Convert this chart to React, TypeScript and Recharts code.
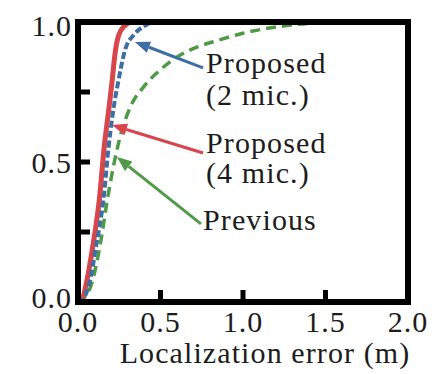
import React from 'react';
import {
  LineChart,
  Line,
  XAxis,
  YAxis,
  ReferenceLine,
  ReferenceDot,
} from 'recharts';

// CDF curves: x = localization error (m), y = cumulative ratio
const red4mic = [
  { x: 0, y: 0 }, { x: 0.025, y: 0.01 }, { x: 0.055, y: 0.08 }, { x: 0.09, y: 0.2 },
  { x: 0.13, y: 0.37 }, { x: 0.16, y: 0.56 }, { x: 0.185, y: 0.68 }, { x: 0.205, y: 0.78 },
  { x: 0.225, y: 0.89 }, { x: 0.245, y: 0.95 }, { x: 0.28, y: 0.985 }, { x: 0.33, y: 1.0 },
  { x: 2.0, y: 1.0 },
];
const blue2mic = [
  { x: 0, y: 0 }, { x: 0.03, y: 0.01 }, { x: 0.07, y: 0.07 }, { x: 0.11, y: 0.2 },
  { x: 0.155, y: 0.37 }, { x: 0.185, y: 0.55 }, { x: 0.21, y: 0.67 }, { x: 0.245, y: 0.79 },
  { x: 0.285, y: 0.9 }, { x: 0.34, y: 0.955 }, { x: 0.4, y: 0.985 }, { x: 0.46, y: 1.0 },
  { x: 2.0, y: 1.0 },
];
const greenPrev = [
  { x: 0, y: 0 }, { x: 0.03, y: 0.01 }, { x: 0.085, y: 0.07 }, { x: 0.133, y: 0.2 },
  { x: 0.182, y: 0.38 }, { x: 0.22, y: 0.5 }, { x: 0.26, y: 0.6 }, { x: 0.32, y: 0.7 },
  { x: 0.4, y: 0.77 }, { x: 0.5, y: 0.83 }, { x: 0.6, y: 0.875 }, { x: 0.72, y: 0.91 },
  { x: 0.85, y: 0.935 }, { x: 1.0, y: 0.96 }, { x: 1.2, y: 0.982 }, { x: 1.4, y: 0.995 },
  { x: 1.6, y: 1.0 }, { x: 2.0, y: 1.0 },
];

const xTicks = [0, 0.5, 1, 1.5, 2];
const xTickLabels = ['0.0', '0.5', '1.0', '1.5', '2.0'];
const yTicks = [0, 0.25, 0.5, 0.75, 1];
const yTickLabels = ['0.0', '', '0.5', '', '1.0'];

// annotation arrows: tail -> tip, in data units
const arrows = [
  { color: '#3d6fa6', tail: { x: 0.758, y: 0.836 }, tip: { x: 0.345, y: 0.929 } },
  { color: '#d8454a', tail: { x: 0.758, y: 0.532 }, tip: { x: 0.206, y: 0.632 } },
  { color: '#4f9a47', tail: { x: 0.745, y: 0.279 }, tip: { x: 0.236, y: 0.518 } },
];
const notes = [
  { text: 'Proposed', x: 0.776, y: 0.818 },
  { text: '(2 mic.)', x: 0.776, y: 0.704 },
  { text: 'Proposed', x: 0.776, y: 0.532 },
  { text: '(4 mic.)', x: 0.776, y: 0.425 },
  { text: 'Previous', x: 0.758, y: 0.257 },
];

const FONT = '"Liberation Serif", "Times New Roman", serif';
const INK = '#1c1c1c';
const tickFont = { fill: INK, fontSize: 30, fontFamily: FONT, letterSpacing: 1 };

const arrowShape = (color: string) => (props: any) => {
  const { x1, y1, x2, y2 } = props;
  const ang = Math.atan2(y2 - y1, x2 - x1);
  const len = 15;
  const half = 6;
  const bx = x2 - len * Math.cos(ang);
  const by = y2 - len * Math.sin(ang);
  const px = -Math.sin(ang) * half;
  const py = Math.cos(ang) * half;
  return (
    <g>
      <line x1={x1} y1={y1} x2={bx} y2={by} stroke={color} strokeWidth={3} />
      <polygon points={`${x2},${y2} ${bx + px},${by + py} ${bx - px},${by - py}`} fill={color} />
    </g>
  );
};

const noteShape = (text: string) => (props: any) => (
  <text x={props.cx} y={props.cy} fill={INK} fontSize={30} fontFamily={FONT} letterSpacing={1.1}>
    {text}
  </text>
);

// y labels: the end ones sit slightly inside the frame, like the original
const YTick = (props: any) => {
  const { x, y, payload } = props;
  const label = yTickLabels[yTicks.indexOf(payload.value)];
  if (!label) return null;
  const shift = payload.value === 0 ? -5 : payload.value === 1 ? 3 : 0;
  return (
    <text x={x} y={y + shift} dy="0.355em" textAnchor="end" fill={INK}
      fontSize={30} fontFamily={FONT} letterSpacing={1}>
      {label}
    </text>
  );
};

export default function App() {
  const axisLine = { stroke: '#000', strokeWidth: 6, strokeLinecap: 'square' as const };
  const tickLine = { stroke: '#000', strokeWidth: 5 };
  return (
    <div style={{ position: 'absolute', left: 0, top: 0, background: '#fff' }}>
      <LineChart width={437} height={374} margin={{ top: 21, right: 28, left: 0, bottom: 0 }}>
        <XAxis
          type="number"
          dataKey="x"
          domain={[0, 2]}
          ticks={xTicks}
          tickFormatter={(v) => xTickLabels[xTicks.indexOf(v)]}
          height={72}
          tickSize={-12}
          tickMargin={21}
          axisLine={axisLine}
          tickLine={tickLine}
          tick={tickFont}
          allowDataOverflow
          label={{
            value: 'Localization error (m)',
            position: 'insideBottom',
            offset: 11,
            dx: 22,
            fill: INK,
            fontSize: 30,
            fontFamily: FONT,
            letterSpacing: 1.1,
          }}
        />
        <XAxis
          xAxisId="top"
          orientation="top"
          type="number"
          dataKey="x"
          domain={[0, 2]}
          ticks={[0.5, 1, 1.5]}
          tickFormatter={() => ''}
          height={1}
          tickSize={-12}
          axisLine={axisLine}
          tickLine={tickLine}
        />
        <YAxis
          type="number"
          domain={[0, 1]}
          ticks={yTicks}
          width={78}
          tickSize={-12}
          tickMargin={18}
          axisLine={axisLine}
          tickLine={tickLine}
          tick={<YTick />}
          allowDataOverflow
        />
        <YAxis
          yAxisId="right"
          orientation="right"
          type="number"
          domain={[0, 1]}
          ticks={[0.25, 0.5, 0.75]}
          tickFormatter={() => ''}
          width={1}
          tickSize={-12}
          axisLine={axisLine}
          tickLine={tickLine}
        />
        <Line data={greenPrev} dataKey="y" type="monotone" stroke="#4f9a47" strokeWidth={3.5}
          strokeDasharray="10 6" dot={false} isAnimationActive={false} />
        <Line data={red4mic} dataKey="y" type="monotone" stroke="#d8454a" strokeWidth={5}
          dot={false} isAnimationActive={false} />
        <Line data={blue2mic} dataKey="y" type="monotone" stroke="#3d6fa6" strokeWidth={4}
          strokeDasharray="7 3" dot={false} isAnimationActive={false} />
        {arrows.map((a, i) => (
          <ReferenceLine key={`a${i}`} segment={[a.tail, a.tip]} ifOverflow="visible"
            shape={arrowShape(a.color)} />
        ))}
        {notes.map((n, i) => (
          <ReferenceDot key={`n${i}`} x={n.x} y={n.y} r={0} ifOverflow="visible"
            shape={noteShape(n.text)} />
        ))}
      </LineChart>
    </div>
  );
}
